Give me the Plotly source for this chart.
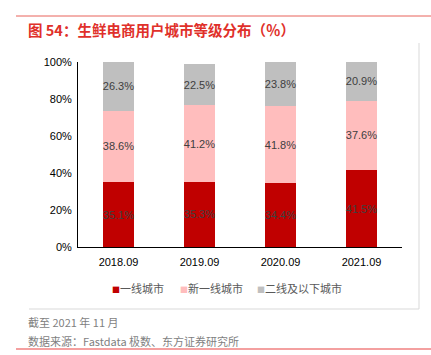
import plotly.graph_objects as go

categories = ["2018.09", "2019.09", "2020.09", "2021.09"]
tier1 = [35.1, 35.3, 34.4, 41.5]
new_tier1 = [38.6, 41.2, 41.8, 37.6]
tier2_below = [26.3, 22.5, 23.8, 20.9]
series_names = ["一线城市", "新一线城市", "二线及以下城市"]
ytick_vals = [0, 20, 40, 60, 80, 100]
ytick_text = ["0%", "20%", "40%", "60%", "80%", "100%"]
title_text = "图 54：生鲜电商用户城市等级分布（％）"
note_text = "截至 2021 年 11 月"
source_text = "数据来源：Fastdata 极数、东方证券研究所"

W, H = 431, 355
L, R, T, B = 78, 402, 62, 247

def px(x):
    return (x - L) / (R - L)

def py(y):
    return (B - y) / (B - T)

FONT = "Liberation Sans, Arial, Noto Sans CJK SC, sans-serif"
CJK = "Noto Sans CJK SC, Liberation Sans, sans-serif"

colors = ["#C00000", "#FFBDBD", "#BFBFBF"]
fig = go.Figure()
for name, vals, c in zip(series_names, [tier1, new_tier1, tier2_below], colors):
    fig.add_trace(go.Bar(
        x=categories, y=vals, name=name, marker=dict(color=c, line=dict(width=0)),
        text=[f"{v:.1f}%" for v in vals], textposition="inside",
        insidetextanchor="middle", textangle=0, constraintext="none",
        textfont=dict(color="#404040", size=11, family=FONT),
        width=0.38, showlegend=False, hoverinfo="skip",
    ))

fig.update_layout(
    barmode="stack",
    width=W, height=H,
    margin=dict(l=L, r=W - R, t=T, b=H - B, autoexpand=False),
    paper_bgcolor="white", plot_bgcolor="white",
    showlegend=False,
    uniformtext=dict(mode=False),
    xaxis=dict(showline=True, linecolor="#000000", linewidth=1, ticks="",
               ticklabelstandoff=5,
               tickfont=dict(family=FONT, size=11, color="#000000"), showgrid=False),
    yaxis=dict(range=[0, 100], tickvals=ytick_vals, ticktext=ytick_text,
               showline=True, linecolor="#000000", linewidth=1, showgrid=False,
               ticks="", ticklabelstandoff=3,
               tickfont=dict(family=FONT, size=11, color="#000000"),
               zeroline=False),
)

shapes = [
    dict(type="line", xref="paper", yref="paper", x0=px(16), x1=px(431), y0=py(16), y1=py(16),
         line=dict(color="#E8625A", width=1)),
    dict(type="line", xref="paper", yref="paper", x0=px(419), x1=px(419), y0=py(43), y1=py(309),
         line=dict(color="#D9D9D9", width=1)),
    dict(type="line", xref="paper", yref="paper", x0=px(29), x1=px(419), y0=py(309), y1=py(309),
         line=dict(color="#D9D9D9", width=1)),
    dict(type="line", xref="paper", yref="paper", x0=px(16), x1=px(431), y0=py(349), y1=py(349),
         line=dict(color="#F08080", width=1.5)),
]
fig.update_layout(shapes=shapes)

anns = [
    dict(text="<b>" + title_text + "</b>", x=px(26), y=py(29), xanchor="left", yanchor="middle",
         font=dict(family=CJK, size=14.5, color="#E0302A")),
    dict(text=note_text, x=px(26), y=py(322), xanchor="left", yanchor="middle",
         font=dict(family=CJK, size=11, color="#7F7F7F")),
    dict(text=source_text, x=px(26), y=py(341), xanchor="left", yanchor="middle",
         font=dict(family=CJK, size=11, color="#7F7F7F")),
]
# legend built as compact text items
legend_x = [110, 178, 255]
for name, c, lx in zip(series_names, colors, legend_x):
    anns.append(dict(text=f"<span style='color:{c};font-size:8px'>■</span>{name}",
                     x=px(lx), y=py(288), xanchor="left", yanchor="middle",
                     font=dict(family=CJK, size=11, color="#595959")))
for a in anns:
    fig.add_annotation(xref="paper", yref="paper", showarrow=False, **a)

fig.write_html("out.html", config={"displayModeBar": False, "staticPlot": True},
               post_script="document.body.style.margin='0';")
